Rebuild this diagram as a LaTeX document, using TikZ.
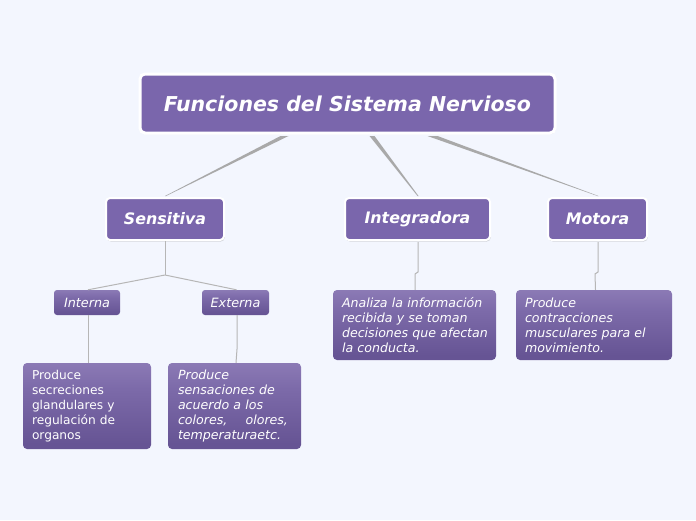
\documentclass[tikz,border=0pt]{standalone}
\usepackage{fontspec}
\setmainfont{DejaVu Sans}
\usetikzlibrary{calc,shadows}
\definecolor{bg}{HTML}{F3F6FE}
\definecolor{boxpurple}{HTML}{7A66AC}
\definecolor{conn}{HTML}{A9A9A9}
\definecolor{leaftop}{HTML}{A594C9}
\definecolor{leafmid}{HTML}{7C6AA9}
\definecolor{leafdark}{HTML}{665494}
\definecolor{leafbot}{HTML}{8A7AB4}
\pgfdeclareverticalshading{leafshade}{100bp}{color(0bp)=(leafbot); color(7bp)=(leafbot); color(11bp)=(leafdark); color(28bp)=(leafdark); color(60bp)=(leafmid); color(100bp)=(leaftop)}
\tikzset{
  mainbox/.style={rectangle, rounded corners=5pt, fill=boxpurple, draw=white, line width=3pt,
    text=white, font=\bfseries\itshape\fontsize{20.5}{24}\selectfont,
    drop shadow={opacity=0.25, shadow xshift=0.8pt, shadow yshift=-1.2pt}},
  catbox/.style={rectangle, rounded corners=4pt, fill=boxpurple, draw=white, line width=2pt,
    text=white, font=\bfseries\itshape\fontsize{15.8}{18}\selectfont,
    drop shadow={opacity=0.3, shadow xshift=0.8pt, shadow yshift=-1.5pt}},
  subbox/.style={rectangle, rounded corners=3pt, shading=leafshade, draw=none,
    text=white, font=\itshape\fontsize{12.8}{15}\selectfont, inner sep=0pt},
  leafbox/.style={rectangle, rounded corners=4pt, shading=leafshade, draw=none,
    text=white, font=\itshape\fontsize{12.6}{15}\selectfont, align=left, inner xsep=9pt, inner ysep=0pt},
  thin/.style={draw=conn!85!white, line width=1pt},
}
\begin{document}
\begin{tikzpicture}[x=1pt,y=-1pt]
\useasboundingbox[fill=bg] (0,0) rectangle (696,520);

\node[mainbox, minimum width=415pt, minimum height=59pt] (main) at (347.5,103.5) {Funciones del Sistema Nervioso};

\node[catbox, minimum width=118pt, minimum height=42pt] (sens) at (165,219) {Sensitiva};
\node[catbox, minimum width=145pt, minimum height=42pt] (integ) at (417.5,219) {Integradora};
\node[catbox, minimum width=99pt, minimum height=42pt] (motor) at (597.5,219) {Motora};

\node[subbox, minimum width=66pt, minimum height=25pt] (interna) at (87,302.5) {Interna};
\node[subbox, minimum width=67pt, minimum height=25pt] (externa) at (235.5,302.5) {Externa};

\node[leafbox, font=\fontsize{12.2}{15}\selectfont, text width=110pt, minimum height=86pt] (lint) at (87,406)
  {Produce\\secreciones\\glandulares y\\regulación de\\organos};
\node[leafbox, inner xsep=10pt, text width=113pt, minimum height=86pt] (lext) at (234.5,406)
  {Produce\\sensaciones de\\acuerdo a los\\\makebox[110pt][l]{colores,\hfill olores,}\\temperaturaetc.};
\node[leafbox, text width=145pt, minimum height=70pt] (linteg) at (414.5,325)
  {\mbox{Analiza la información}\\\mbox{recibida y se toman}\\\mbox{decisiones que afectan}\\la conducta.};
\node[leafbox, text width=138pt, minimum height=70pt] (lmotor) at (594,325)
  {Produce\\contracciones\\musculares para el\\movimiento.};

% tapered connectors from main
\fill[conn] ($(main.south west)+(142,1.5)$) -- ($(main.south west)+(150,1.5)$) -- ($(sens.north)+(1,-1)$) -- ($(sens.north)+(0,-1)$) -- cycle;
\fill[conn] ($(main.south west)+(231,1.5)$) -- ($(main.south west)+(236,1.5)$) -- ($(integ.north)+(1,-1)$) -- ($(integ.north)+(0,-1)$) -- cycle;
\fill[conn] ($(main.south west)+(289,1.5)$) -- ($(main.south west)+(299,1.5)$) -- ($(motor.north)+(1,-1)$) -- ($(motor.north)+(0,-1)$) -- cycle;

% thin connectors
\coordinate (sj) at ($(sens.south)+(0,34)$);
\draw[thin] (sens.south) -- (sj);
\draw[thin] (sj) -- ($(interna.north)+(1,0)$);
\draw[thin] (sj) -- ($(externa.north)+(1,0)$);
\draw[thin] ($(interna.south)+(1,0)$) -- ($(lint.north)+(1,0)$);
\draw[thin] ($(externa.south)+(1.5,0)$) -- ($(externa.south)+(1.5,34)$) -- ($(lext.north)+(1.5,0)$);
\draw[thin] ($(integ.south)+(0.5,1)$) -- ($(integ.south)+(0.5,31)$) -- ($(integ.south)+(-2.5,33)$) -- ($(linteg.north)+(0.5,0)$);
\draw[thin] ($(motor.south)+(0.5,1)$) -- ($(motor.south)+(0.5,31)$) -- ($(motor.south)+(-2.5,33)$) -- ($(lmotor.north)+(1.5,0)$);
\end{tikzpicture}
\end{document}
